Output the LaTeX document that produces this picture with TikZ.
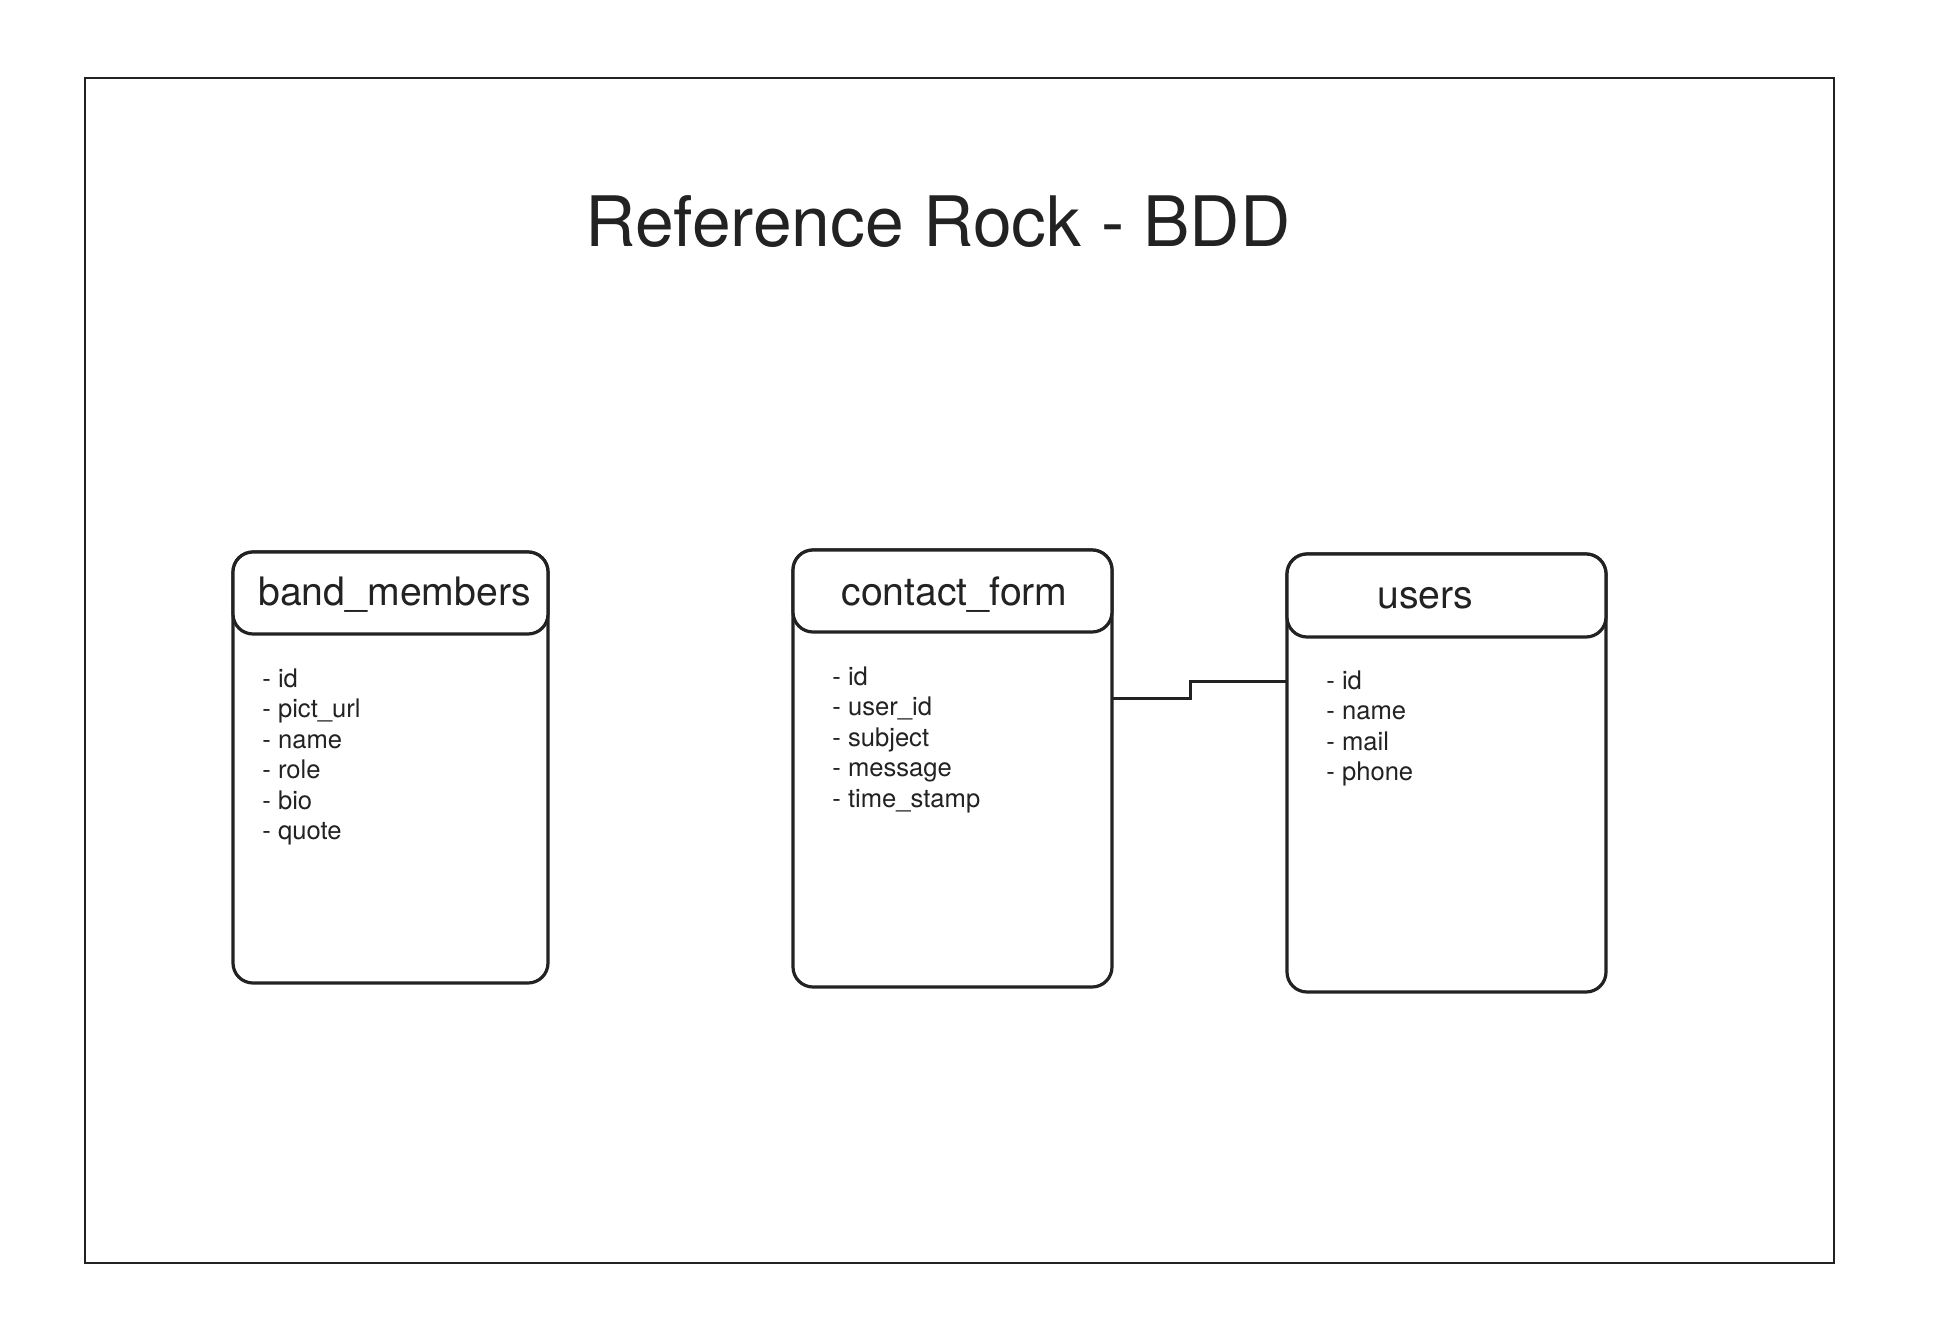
\documentclass[tikz,border=0pt]{standalone}
\usepackage{fontspec}
\setmainfont{TeX Gyre Heros}
\usetikzlibrary{calc}
\usetikzlibrary{positioning}
\definecolor{ink}{HTML}{222222}

\begin{document}
\begin{tikzpicture}[x=0.5pt,y=-0.5pt]
\tikzstyle{frame}=[draw=ink,line width=1.3pt]
\tikzstyle{table}=[rectangle,draw=ink,line width=1.6pt,rounded corners=10pt,anchor=north west,inner sep=0pt,outer sep=0pt,fill=white]
\tikzstyle{head}=[table,fill=white]
\tikzstyle{headtext}=[anchor=base west,inner sep=0pt,text=ink,font=\fontsize{19.6}{23}\selectfont]
\tikzstyle{fields}=[anchor=base west,inner sep=0pt,align=left,text=ink,font=\fontsize{12.8}{15.25}\selectfont]
\tikzstyle{link}=[draw=ink,line width=1.5pt]
\useasboundingbox (0,0) rectangle (1938,1338);
\draw[frame] (85,78) rectangle (1834,1263);
\node[anchor=base,inner sep=0pt,text=ink,font=\fontsize{34.8}{42}\selectfont] (title) at (938,246) {Reference Rock - BDD};
% band_members
\node[table,minimum width=157.5pt,minimum height=215.5pt] (bandmembers) at (233,552) {};
\node[head,minimum width=157.5pt,minimum height=41pt] (bandmembers-head) at (233,552) {};
\node[headtext] (bandmembers-name) at (258,605) {band\_members};
% fields node sits on the baseline of its last line
\node[fields] (bandmembers-fields) at (262,839.5) {- id\\
                                                  - pict\_url\\
                                                  - name\\
                                                  - role\\
                                                  - bio\\
                                                  - quote};
% contact_form
\node[table,minimum width=159.5pt,minimum height=218.5pt] (contactform) at (793,550) {};
\node[head,minimum width=159.5pt,minimum height=41pt] (contactform-head) at (793,550) {};
\node[headtext] (contactform-name) at (841,605) {contact\_form};
\node[fields] (contactform-fields) at (832,807) {- id\\
                                                - user\_id\\
                                                - subject\\
                                                - message\\
                                                - time\_stamp};
% users
\node[table,minimum width=159.5pt,minimum height=219pt] (users) at (1287,554) {};
\node[head,minimum width=159.5pt,minimum height=41.5pt] (users-head) at (1287,554) {};
\node[headtext] (users-name) at (1377,608) {users};
\node[fields] (users-fields) at (1326,780.5) {- id\\
                                             - name\\
                                             - mail\\
                                             - phone};
\coordinate (bend) at (1190,681);
\draw[link] (contactform.east |- 0,698) -| (bend) -- (users.west |- bend);
\end{tikzpicture}
\end{document}
